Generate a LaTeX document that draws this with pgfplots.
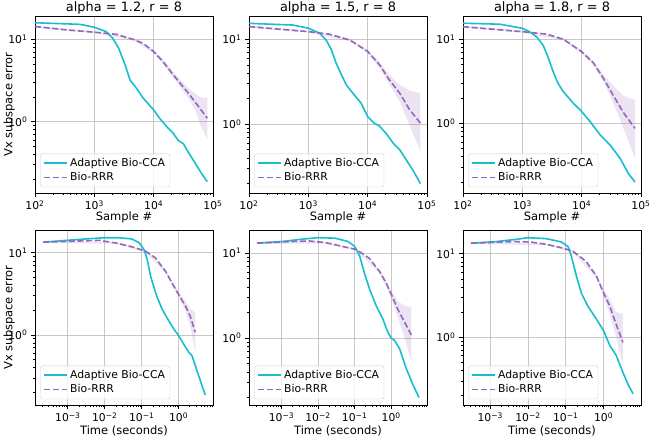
\documentclass[border=0pt]{standalone}
\usepackage{fontspec}
\setmainfont{DejaVu Sans}[Scale=1.08]
\newfontfamily\labfam{DejaVu Sans}[Scale=1.15]
\newfontfamily\ttlfam{DejaVu Sans}[Scale=1.29]
\usepackage{pgfplots}
\pgfplotsset{compat=1.18}
\definecolor{tabcyan}{RGB}{23,190,207}
\definecolor{tabpurple}{RGB}{148,103,189}
\definecolor{gridc}{RGB}{176,176,176}
\definecolor{legc}{RGB}{204,204,204}
\pgfplotsset{
  legend image code/.code={\draw[#1] (0pt,0pt) -- (23pt,0pt);},
  every axis title/.style={at={(0.5,1)}, anchor=base, yshift=4.5pt, font=\ttlfam},
  every axis/.append style={
    scale only axis, width=178pt, height=177pt,
    axis line style={black, line width=0.8pt},
    grid=major, major grid style={gridc, line width=0.8pt, opacity=0.7},
    tick align=outside, xtick pos=left, ytick pos=left,
    major tick length=3.8pt, minor tick length=2.2pt,
    every tick/.append style={black, line width=0.8pt},
    every minor tick/.append style={black, line width=0.6pt},
    label style={font=\labfam},
    xlabel style={at={(axis description cs:0.5,0)}, anchor=base},
    ytick={1,10}, yticklabels={10\textsuperscript{0},10\textsuperscript{1}},
    minor ytick={0.2,0.3,0.4,0.5,0.6,0.7,0.8,0.9,2,3,4,5,6,7,8,9},
    legend cell align=left,
    legend style={at={(0.03,0.033)}, anchor=south west,
      draw=legc, rounded corners=2pt, fill=white, fill opacity=0.8, text opacity=1,
      inner xsep=3pt, inner ysep=2.5pt, row sep=0.5pt},
  },
}
\tikzset{
  myBand/.style={fill=tabpurple, fill opacity=0.18, draw=none},
  myAda/.style={color=tabcyan, line width=1.6pt},
  myRrr/.style={color=tabpurple, line width=1.6pt, dash pattern=on 6pt off 2.6pt},
}
\begin{document}
\begin{tikzpicture}
\useasboundingbox (0,0) rectangle (650pt,437pt);
% ---------------- top left
\begin{axis}[xmode=log, ymode=log, at={(35pt,244pt)}, anchor=south west,
    xmin=100, xmax=100000,
    xtick={100,1000,10000,100000},
    xticklabels={10\textsuperscript{2},10\textsuperscript{3},10\textsuperscript{4},10\textsuperscript{5}},
    minor xtick={200,300,400,500,600,700,800,900,2000,3000,4000,5000,6000,7000,8000,9000,20000,30000,40000,50000,60000,70000,80000,90000},
    xlabel={Sample \#}, xlabel style={yshift=-27pt},
    ylabel={Vx subspace error}, ylabel style={at={(axis description cs:-0.145,0.5)}, anchor=center},
    ymin=0.136, ymax=19.2, title={alpha = 1.2, r = 8}]
\addplot[myBand, forget plot] coordinates {(100,14.7) (1000,12.5) (4500,10.3) (10000,7.4) (14400,5.7) (21400,4.0) (29500,3.1) (40700,2.45) (52000,2.15) (60000,2.0) (80000,1.92)
 (80000,0.6) (60000,0.95) (52000,1.3) (40700,1.8) (29500,2.5) (21400,3.4) (14400,5.0) (10000,6.8) (4500,9.7) (1000,11.9) (100,13.9)};
\addplot[myAda] coordinates {(100,15.9) (575,15.2) (1000,14.0) (1585,12.4) (2050,10.3) (2570,7.8) (3300,4.9) (4000,3.2) (5150,2.54) (6700,1.92) (10000,1.39) (12600,1.1) (16600,0.87) (21400,0.72) (26000,0.59) (31600,0.54) (38000,0.43) (52000,0.30) (64000,0.235) (80000,0.187)};
\addlegendentry{Adaptive Bio-CCA}
\addplot[myRrr] coordinates {(100,14.3) (340,13.0) (1000,12.2) (2340,11.5) (4500,10.0) (6700,8.9) (10000,7.1) (14400,5.35) (21400,3.7) (29500,2.79) (40700,2.11) (60000,1.45) (80000,1.1)};
\addlegendentry{Bio-RRR}
\end{axis}
% ---------------- top middle
\begin{axis}[xmode=log, ymode=log, at={(249pt,244pt)}, anchor=south west,
    xmin=100, xmax=100000,
    xtick={100,1000,10000,100000},
    xticklabels={10\textsuperscript{2},10\textsuperscript{3},10\textsuperscript{4},10\textsuperscript{5}},
    minor xtick={200,300,400,500,600,700,800,900,2000,3000,4000,5000,6000,7000,8000,9000,20000,30000,40000,50000,60000,70000,80000,90000},
    xlabel={Sample \#}, xlabel style={yshift=-27pt},
    ymin=0.155, ymax=18.8, title={alpha = 1.5, r = 8}]
\addplot[myBand, forget plot] coordinates {(100,14.5) (1000,12.6) (5010,10.1) (10000,7.5) (15850,5.4) (23400,3.8) (34700,2.9) (51300,2.5) (77600,2.3)
 (77600,0.48) (51300,0.95) (34700,1.85) (23400,2.9) (15850,4.6) (10000,6.9) (5010,9.5) (1000,12.0) (100,13.7)};
\addplot[myAda] coordinates {(100,15.4) (550,14.7) (1000,13.5) (1550,11.8) (1995,9.8) (2455,7.5) (2950,5.2) (3630,3.8) (4365,2.9) (5620,2.32) (7760,1.77) (10000,1.23) (12900,1.03) (15850,0.95) (20400,0.78) (26900,0.6) (34700,0.5) (44700,0.38) (57500,0.29) (77600,0.2)};
\addlegendentry{Adaptive Bio-CCA}
\addplot[myRrr] coordinates {(100,14.1) (1000,12.3) (2240,11.5) (5010,9.8) (10000,7.2) (15850,5.0) (23400,3.3) (34700,2.32) (51300,1.47) (77600,1.03)};
\addlegendentry{Bio-RRR}
\end{axis}
% ---------------- top right
\begin{axis}[xmode=log, ymode=log, at={(463pt,244pt)}, anchor=south west,
    xmin=100, xmax=100000,
    xtick={100,1000,10000,100000},
    xticklabels={10\textsuperscript{2},10\textsuperscript{3},10\textsuperscript{4},10\textsuperscript{5}},
    minor xtick={200,300,400,500,600,700,800,900,2000,3000,4000,5000,6000,7000,8000,9000,20000,30000,40000,50000,60000,70000,80000,90000},
    xlabel={Sample \#}, xlabel style={yshift=-27pt},
    ymin=0.148, ymax=18.9, title={alpha = 1.8, r = 8}]
\addplot[myBand, forget plot] coordinates {(100,14.5) (1000,12.6) (4898,10.3) (10000,7.4) (15850,5.5) (23400,3.75) (32400,2.9) (51300,2.1) (79400,1.9)
 (79400,0.38) (51300,0.85) (32400,1.9) (23400,3.1) (15850,4.9) (10000,6.8) (4898,9.7) (1000,12.0) (100,13.7)};
\addplot[myAda] coordinates {(100,15.5) (417,15.1) (1000,13.5) (1318,12.3) (1738,10.7) (2239,8.5) (2692,6.2) (3311,4.1) (3981,3.0) (4898,2.38) (7244,1.73) (10000,1.38) (13800,1.05) (20400,0.73) (30200,0.55) (44700,0.38) (61700,0.25) (79400,0.2)};
\addlegendentry{Adaptive Bio-CCA}
\addplot[myRrr] coordinates {(100,14.1) (1000,12.3) (2570,11.5) (4898,10.0) (10000,7.1) (15850,5.2) (23400,3.4) (32400,2.28) (51300,1.32) (79400,0.87)};
\addlegendentry{Bio-RRR}
\end{axis}
% ---------------- bottom left
\begin{axis}[xmode=log, ymode=log, at={(35pt,32pt)}, anchor=south west, height=175pt,
    xtick={0.001,0.01,0.1,1},
    xticklabels={10\textsuperscript{−3},10\textsuperscript{−2},10\textsuperscript{−1},10\textsuperscript{0}},
    minor xtick={0.0002,0.0003,0.0004,0.0005,0.0006,0.0007,0.0008,0.0009,0.002,0.003,0.004,0.005,0.006,0.007,0.008,0.009,0.02,0.03,0.04,0.05,0.06,0.07,0.08,0.09,0.2,0.3,0.4,0.5,0.6,0.7,0.8,0.9,2,3,4,5,6,7,8},
    xlabel={Time (seconds)}, xlabel style={yshift=-29pt},
    ylabel={Vx subspace error}, ylabel style={at={(axis description cs:-0.145,0.5)}, anchor=center},
    xmin=0.000129, xmax=8.51, ymin=0.14, ymax=19]
\addplot[myBand, forget plot] coordinates {(0.000214,13.8) (0.02,13.5) (0.126,10.8) (0.437,6.3) (1.0,3.3) (1.51,2.6) (2.04,2.1) (2.82,1.87)
 (2.82,0.62) (2.04,1.3) (1.51,2.0) (1.0,2.9) (0.437,5.7) (0.126,10.2) (0.02,12.9) (0.000214,13.2)};
\addplot[myAda] coordinates {(0.000214,13.5) (0.00091,14.2) (0.00309,14.8) (0.01,15.3) (0.024,15.3) (0.0537,14.8) (0.0851,13.3) (0.115,11.0) (0.141,8.3) (0.174,5.2) (0.214,3.8) (0.263,2.86) (0.355,2.07) (0.537,1.49) (0.741,1.18) (1.0,0.98) (1.35,0.78) (1.86,0.62) (2.29,0.56) (3.47,0.32) (5.25,0.185)};
\addlegendentry{Adaptive Bio-CCA}
\addplot[myRrr] coordinates {(0.000214,13.5) (0.00091,13.8) (0.00708,14.2) (0.02,13.2) (0.0562,11.8) (0.126,10.5) (0.234,8.7) (0.437,6.0) (0.661,4.3) (1.0,3.1) (1.51,2.27) (2.04,1.71) (2.82,1.08)};
\addlegendentry{Bio-RRR}
\end{axis}
% ---------------- bottom middle
\begin{axis}[xmode=log, ymode=log, at={(249pt,32pt)}, anchor=south west, height=175pt,
    xtick={0.001,0.01,0.1,1},
    xticklabels={10\textsuperscript{−3},10\textsuperscript{−2},10\textsuperscript{−1},10\textsuperscript{0}},
    minor xtick={0.0002,0.0003,0.0004,0.0005,0.0006,0.0007,0.0008,0.0009,0.002,0.003,0.004,0.005,0.006,0.007,0.008,0.009,0.02,0.03,0.04,0.05,0.06,0.07,0.08,0.09,0.2,0.3,0.4,0.5,0.6,0.7,0.8,0.9,2,3,4,5,6,7,8,9},
    xlabel={Time (seconds)}, xlabel style={yshift=-29pt},
    xmin=0.000129, xmax=9.55, ymin=0.163, ymax=18.7]
\addplot[myBand, forget plot] coordinates {(0.000214,13.4) (0.0158,13.6) (0.112,11.3) (0.479,6.4) (1.0,3.6) (1.51,2.7) (2.34,2.4) (3.55,2.3)
 (3.55,0.53) (2.34,1.0) (1.51,1.75) (1.0,3.0) (0.479,5.8) (0.112,10.7) (0.0158,13.0) (0.000214,12.8)};
\addplot[myAda] coordinates {(0.000214,13.1) (0.00105,13.7) (0.00372,14.6) (0.01,15.2) (0.0288,15.0) (0.066,13.7) (0.1,12.0) (0.138,9.2) (0.186,5.8) (0.257,3.75) (0.389,2.4) (0.589,1.68) (0.813,1.17) (1.0,1.0) (1.23,0.94) (1.70,0.75) (2.57,0.44) (3.98,0.28) (5.75,0.2)};
\addlegendentry{Adaptive Bio-CCA}
\addplot[myRrr] coordinates {(0.000214,13.1) (0.00195,13.7) (0.00562,13.9) (0.0158,13.3) (0.0457,12.0) (0.112,11.0) (0.251,8.7) (0.479,6.1) (0.724,4.5) (1.0,3.3) (1.51,2.19) (2.34,1.53) (3.55,1.09)};
\addlegendentry{Bio-RRR}
\end{axis}
% ---------------- bottom right
\begin{axis}[xmode=log, ymode=log, at={(463pt,32pt)}, anchor=south west, height=175pt,
    xtick={0.001,0.01,0.1,1},
    xticklabels={10\textsuperscript{−3},10\textsuperscript{−2},10\textsuperscript{−1},10\textsuperscript{0}},
    minor xtick={0.0002,0.0003,0.0004,0.0005,0.0006,0.0007,0.0008,0.0009,0.002,0.003,0.004,0.005,0.006,0.007,0.008,0.009,0.02,0.03,0.04,0.05,0.06,0.07,0.08,0.09,0.2,0.3,0.4,0.5,0.6,0.7,0.8,0.9,2,3,4,5,6,7,8,9},
    xlabel={Time (seconds)}, xlabel style={yshift=-29pt},
    xmin=0.0001905, xmax=9.77, ymin=0.154, ymax=19.3]
\addplot[myBand, forget plot] coordinates {(0.000309,13.7) (0.0302,13.3) (0.155,11.0) (0.646,5.7) (1.0,3.7) (1.45,2.9) (2.14,2.0) (3.24,1.9)
 (3.24,0.46) (2.14,1.0) (1.45,1.9) (1.0,3.1) (0.646,5.1) (0.155,10.4) (0.0302,12.7) (0.000309,13.1)};
\addplot[myAda] coordinates {(0.000309,13.4) (0.00141,14.0) (0.00479,14.9) (0.01,15.6) (0.0302,15.2) (0.0759,13.9) (0.115,12.2) (0.141,9.3) (0.191,5.4) (0.257,3.4) (0.380,2.37) (0.646,1.65) (1.0,1.2) (1.45,0.8) (2.14,0.61) (3.24,0.38) (4.47,0.27) (6.03,0.21)};
\addlegendentry{Adaptive Bio-CCA}
\addplot[myRrr] coordinates {(0.000309,13.4) (0.00389,14.0) (0.011,13.9) (0.0302,13.0) (0.0851,11.7) (0.155,10.7) (0.347,8.1) (0.646,5.4) (1.0,3.4) (1.45,2.37) (2.14,1.44) (3.24,0.87)};
\addlegendentry{Bio-RRR}
\end{axis}
\end{tikzpicture}
\end{document}
